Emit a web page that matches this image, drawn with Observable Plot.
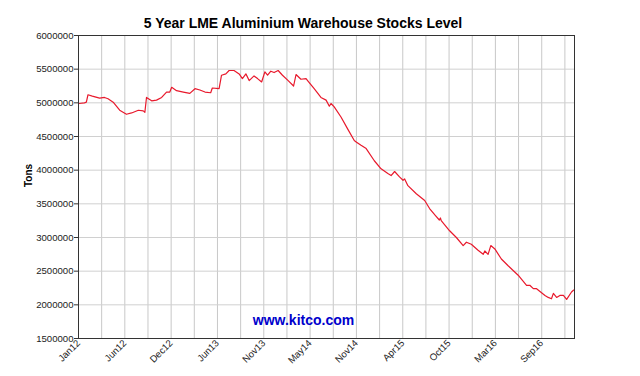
<!DOCTYPE html>
<html><head><meta charset="utf-8">
<script src="https://cdn.jsdelivr.net/npm/d3@7"></script>
<script src="https://cdn.jsdelivr.net/npm/@observablehq/plot@0.6"></script>
<style>
body{margin:0;background:#fff;font-family:"Liberation Sans",Arial,sans-serif;}
#title{width:606px;height:30px;box-sizing:border-box;padding-top:15px;line-height:16px;text-align:center;font-weight:bold;font-size:14px;color:#000;white-space:nowrap;}
#chart svg{display:block;}
</style></head><body>
<div id="title">5 Year LME Aluminium Warehouse Stocks Level</div>
<div id="chart"></div>
<script>
const dates = ["2012-01-13","2012-02-02","2012-02-09","2012-02-15","2012-03-02","2012-03-29","2012-04-16","2012-04-29","2012-05-18","2012-06-11","2012-07-06","2012-07-25","2012-08-19","2012-09-06","2012-09-12","2012-09-18","2012-10-07","2012-10-25","2012-11-13","2012-12-01","2012-12-13","2012-12-20","2013-01-07","2013-02-01","2013-02-25","2013-03-16","2013-04-03","2013-04-22","2013-05-13","2013-05-19","2013-06-13","2013-06-22","2013-07-08","2013-07-20","2013-08-07","2013-08-26","2013-09-07","2013-09-20","2013-10-02","2013-10-20","2013-11-02","2013-11-17","2013-11-29","2013-12-09","2013-12-21","2014-01-02","2014-01-17","2014-02-02","2014-02-23","2014-03-15","2014-03-24","2014-04-11","2014-04-30","2014-05-08","2014-05-30","2014-06-24","2014-07-13","2014-07-25","2014-07-31","2014-08-12","2014-09-06","2014-10-01","2014-10-25","2014-11-01","2014-11-19","2014-12-08","2015-01-07","2015-02-01","2015-02-26","2015-03-10","2015-03-23","2015-04-10","2015-04-23","2015-04-29","2015-05-11","2015-06-11","2015-07-12","2015-07-30","2015-08-20","2015-09-04","2015-09-08","2015-09-11","2015-10-12","2015-11-06","2015-12-01","2015-12-13","2015-12-31","2016-01-25","2016-02-13","2016-02-19","2016-03-02","2016-03-12","2016-03-27","2016-04-20","2016-05-15","2016-06-21","2016-07-22","2016-08-03","2016-08-16","2016-08-28","2016-09-28","2016-10-10","2016-10-22","2016-10-29","2016-11-10","2016-11-22","2016-12-05","2016-12-17","2017-01-04","2017-01-12"];
const tons = [4990000,5000000,5010000,5120000,5100000,5070000,5080000,5060000,5010000,4890000,4830000,4850000,4890000,4880000,4860000,5080000,5030000,5040000,5080000,5160000,5160000,5230000,5180000,5160000,5140000,5210000,5190000,5160000,5150000,5220000,5210000,5410000,5430000,5480000,5480000,5430000,5360000,5430000,5330000,5400000,5360000,5310000,5460000,5410000,5470000,5450000,5480000,5410000,5330000,5250000,5420000,5350000,5360000,5320000,5210000,5080000,5040000,4950000,4990000,4940000,4790000,4610000,4440000,4420000,4370000,4320000,4140000,4020000,3950000,3920000,3980000,3900000,3850000,3870000,3770000,3650000,3550000,3430000,3330000,3260000,3290000,3250000,3100000,3000000,2880000,2930000,2900000,2810000,2750000,2800000,2750000,2880000,2830000,2680000,2580000,2440000,2290000,2290000,2240000,2240000,2140000,2110000,2090000,2170000,2110000,2140000,2140000,2080000,2190000,2220000];
const tickDates = ["2012-01-11","2012-06-30","2012-12-18","2013-06-07","2013-11-25","2014-05-15","2014-11-02","2015-04-22","2015-10-10","2016-03-29","2016-09-16"];
const tickLabels = ["Jan12","Jun12","Dec12","Jun13","Nov13","May14","Nov14","Apr15","Oct15","Mar16","Sep16"];
const yTicks = [1500000,2000000,2500000,3000000,3500000,4000000,4500000,5000000,5500000,6000000];
const xDomain = ["2012-01-11","2017-01-15"];

const data = dates.map((d,i)=>({date:new Date(d), tons:tons[i]}));
const ticks = tickDates.map(d=>new Date(d));
const labelOf = new Map(ticks.map((d,i)=>[+d, tickLabels[i]]));
const half = [];
for (let i=0;i<ticks.length;i++){
  const a = +ticks[i];
  const step = i<ticks.length-1 ? (+ticks[i+1]-a) : (a - +ticks[i-1]);
  half.push(new Date(a + step/2));
}
const gridX = ticks.concat(half);

const chart = Plot.plot({
  width:640, height:346,
  marginTop:5, marginBottom:38, marginLeft:78, marginRight:66,
  style:{fontFamily:'"Liberation Sans",Arial,sans-serif', fontSize:"9.6px", color:"#222", background:"#fff", overflow:"visible"},
  x:{type:"utc", domain:xDomain.map(d=>new Date(d))},
  y:{domain:[1500000,6000000]},
  marks:[
    Plot.ruleX(gridX,{stroke:"#c8c8c8", strokeWidth:1}),
    Plot.ruleY(yTicks,{stroke:"#d0d0d0", strokeWidth:1}),
    Plot.line(data,{x:"date", y:"tons", stroke:"#e8192c", strokeWidth:1.2}),
    Plot.frame({stroke:"#333"}),
    Plot.axisY(yTicks,{tickFormat:d=>String(d), tickSize:4, tickPadding:1, label:null, stroke:"#333"}),
    Plot.axisX(ticks,{tickFormat:d=>labelOf.get(+d), tickRotate:-45, textAnchor:"end", tickSize:0, tickPadding:3, label:null}),
    Plot.text(["Tons"],{frameAnchor:"left", dx:-50, rotate:-90, fontWeight:"bold", fontSize:10, fill:"#000"}),
    Plot.text(["www.kitco.com"],{frameAnchor:"bottom-left", dx:225, dy:-17.5, lineAnchor:"middle", textAnchor:"middle", fontWeight:"bold", fontSize:14, fill:"#0000cc"})
  ]
});
document.getElementById("chart").appendChild(chart);
</script>
</body></html>
